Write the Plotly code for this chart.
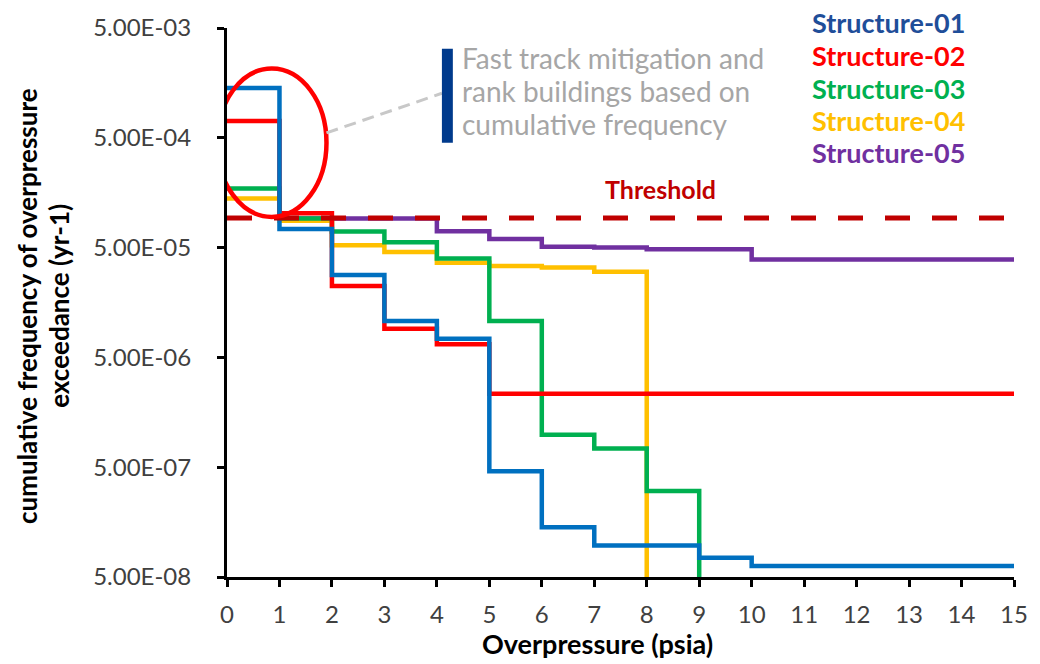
import plotly.graph_objects as go

# ---------------- data ----------------
# step values: value for interval [x_i, x_{i+1}); 0 = no exceedance (drops to axis)
s01_x = [0, 1, 2, 3, 4, 5, 6, 7, 9, 10, 15]
s01_y = [1.42e-3, 7.4e-5, 2.82e-5, 1.07e-5, 7.4e-6, 4.6e-7, 1.42e-7, 9.7e-8, 7.5e-8, 6.3e-8, 6.3e-8]

s02_x = [0, 1, 2, 3, 4, 5, 15]
s02_y = [7.1e-4, 1.03e-4, 2.24e-5, 9.1e-6, 6.6e-6, 2.33e-6, 2.33e-6]

s03_x = [0, 1, 2, 3, 4, 5, 6, 7, 8, 9]
s03_y = [1.73e-4, 9.2e-5, 7.0e-5, 5.6e-5, 3.98e-5, 1.07e-5, 9.9e-7, 7.4e-7, 3.04e-7, 0]

s04_x = [0, 1, 2, 3, 4, 5, 6, 7, 8]
s04_y = [1.40e-4, 8.8e-5, 5.25e-5, 4.57e-5, 3.64e-5, 3.40e-5, 3.30e-5, 3.02e-5, 0]

s05_x = [1, 2, 4, 5, 6, 7, 8, 10, 15]
s05_y = [9.2e-5, 9.2e-5, 7.05e-5, 6.0e-5, 5.1e-5, 5.0e-5, 4.83e-5, 3.9e-5, 3.9e-5]

threshold_x = [0, 15]
threshold_y = [9.3e-5, 9.3e-5]

series_names = ["Structure-01", "Structure-02", "Structure-03", "Structure-04", "Structure-05"]
line_colors = ["#0070C0", "#FF0000", "#00B050", "#FFC000", "#7030A0"]
label_colors = ["#1F4E99", "#FF0000", "#00B050", "#FFC000", "#7030A0"]

y_tickvals = [5e-8, 5e-7, 5e-6, 5e-5, 5e-4, 5e-3]
y_ticktext = ["5.00E-08", "5.00E-07", "5.00E-06", "5.00E-05", "5.00E-04", "5.00E-03"]
x_tickvals = list(range(0, 16))

note_lines = ["Fast track mitigation and", "rank buildings based on", "cumulative frequency"]

FLOOR = 1e-12  # stands in for zero on the log axis

# ---------------- figure ----------------
FONT = "Lato"
fig = go.Figure()

series = [(s01_x, s01_y), (s02_x, s02_y), (s03_x, s03_y), (s04_x, s04_y), (s05_x, s05_y)]
# draw in reverse so Structure-01 sits on top
for i in reversed(range(5)):
    xs, ys = series[i]
    ys = [v if v > 0 else FLOOR for v in ys]
    fig.add_trace(go.Scatter(x=xs, y=ys, mode="lines", line=dict(color=line_colors[i], width=4.5, shape="hv"),
                             name=series_names[i], showlegend=False, hoverinfo="skip"))

fig.add_trace(go.Scatter(x=threshold_x, y=threshold_y, mode="lines",
                         line=dict(color="#C00000", width=5, dash="25px,22px"),
                         name="Threshold", showlegend=False, hoverinfo="skip"))

L, R, T, B = 227, 22, 22, 87
W, H = 1040, 664
pw, ph = W - L - R, H - T - B
xunit = pw / 15.0


def px_x(px):
    return (px - L) / xunit


def px_y(py):
    return (H - B - py) / ph


shapes = [
    # red ellipse
    dict(type="circle", xref="x", yref="paper", x0=px_x(217), x1=px_x(327), y0=px_y(213), y1=px_y(63),
         line=dict(color="#FF0000", width=4.5)),
    # dashed connector
    dict(type="line", xref="x", yref="paper", x0=px_x(327), y0=px_y(128), x1=px_x(443), y1=px_y(88),
         line=dict(color="#C8C8C8", width=3, dash="12px,7px")),
    # navy bar
    dict(type="rect", xref="x", yref="paper", x0=px_x(443), x1=px_x(454), y0=px_y(138), y1=px_y(43),
         fillcolor="#003A8C", line=dict(width=0)),
]

annotations = []
legend_y = [16, 50, 83, 116, 148]
for i in range(5):
    annotations.append(dict(x=px_x(813), y=px_y(legend_y[i]), xref="x", yref="paper", text="<b>%s</b>" % series_names[i],
                            showarrow=False, xanchor="left", yanchor="middle",
                            font=dict(family=FONT, size=27, color=label_colors[i])))

note_y = [52, 86, 119]
for i, t in enumerate(note_lines):
    annotations.append(dict(x=px_x(461), y=px_y(note_y[i]), xref="x", yref="paper", text=t, showarrow=False,
                            xanchor="left", yanchor="middle", font=dict(family=FONT, size=28, color="#A6A6A6")))

annotations.append(dict(x=px_x(663), y=px_y(185), xref="x", yref="paper", text="<b>Threshold</b>", showarrow=False,
                        xanchor="center", yanchor="middle", font=dict(family=FONT, size=25, color="#C00000")))

annotations.append(dict(x=px_x(599), y=px_y(644), xref="x", yref="paper", text="<b>Overpressure (psia)</b>",
                        showarrow=False, xanchor="center", yanchor="middle",
                        font=dict(family=FONT, size=27, color="#000000")))

for cx, t in [(26, "cumulative frequency of overpressure"), (58, "exceedance (yr-1)")]:
    annotations.append(dict(x=(cx - L) / pw, y=px_y(303), xref="paper", yref="paper", text="<b>%s</b>" % t,
                            showarrow=False, xanchor="center", yanchor="middle", textangle=-90,
                            font=dict(family=FONT, size=26, color="#000000")))

fig.update_layout(
    width=W, height=H,
    margin=dict(l=L, r=R, t=T, b=B),
    paper_bgcolor="white", plot_bgcolor="white",
    shapes=shapes, annotations=annotations,
    font=dict(family=FONT, size=24, color="#404040"),
)

fig.update_xaxes(range=[0, 15], tickvals=x_tickvals, ticks="outside", ticklen=7, tickwidth=2.5, tickcolor="black",
                 showline=True, linecolor="black", linewidth=3, showgrid=False, zeroline=False,
                 tickfont=dict(family=FONT, size=24, color="#404040"), ticklabelstandoff=7)
fig.update_yaxes(type="log", range=[-7.30103, -2.30103], tickvals=y_tickvals, ticktext=y_ticktext,
                 ticks="outside", ticklen=7, tickwidth=2.5, tickcolor="black",
                 showline=True, linecolor="black", linewidth=3, showgrid=False, zeroline=False,
                 tickfont=dict(family=FONT, size=24, color="#404040"), ticklabelstandoff=21)

fig.write_html("out.html", config={"displayModeBar": False},
               post_script="document.body.style.margin='0px';document.body.style.overflow='hidden';")
